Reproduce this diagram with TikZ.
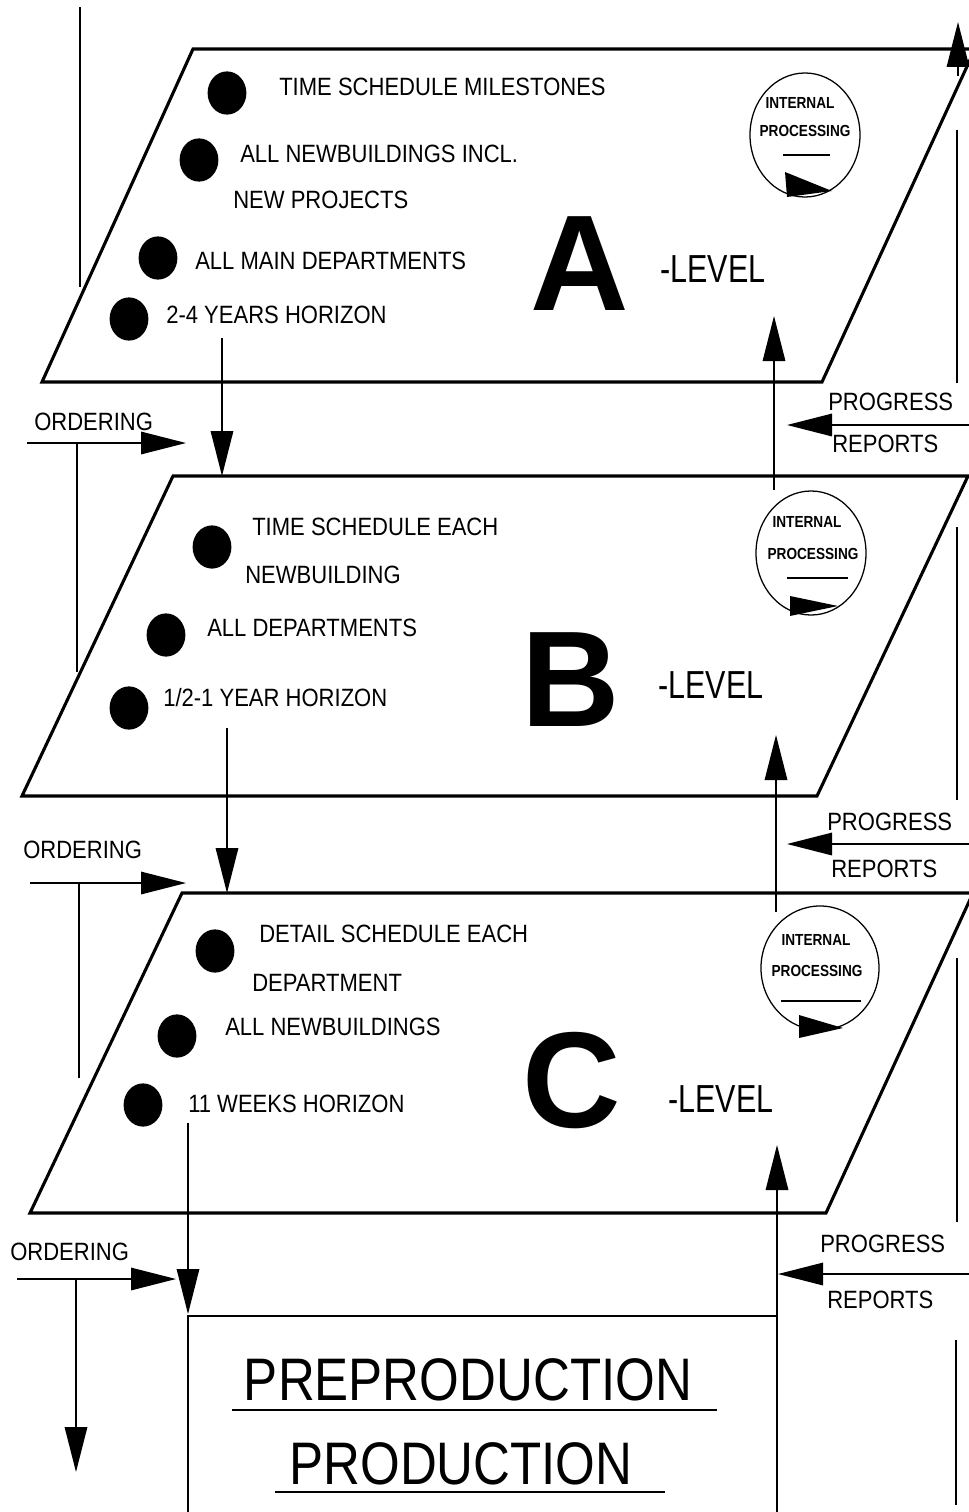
\documentclass[tikz,border=0pt]{standalone}
\usepackage{fontspec}
\setmainfont{Liberation Sans}
\newfontfamily\nar[FakeStretch=0.88]{Liberation Sans}
\newfontfamily\levfont[FakeStretch=0.78]{Liberation Sans}
\newfontfamily\ipfont[FakeStretch=0.85]{Liberation Sans}
\newfontfamily\bigfont[FakeStretch=0.85]{Liberation Sans}
\usetikzlibrary{arrows.meta,shapes.geometric}
\tikzset{
  plane/.style={line width=2.2pt, line join=miter},
  flow/.style={line width=1.1pt},
  arr/.style={flow, -{Triangle[length=32pt,width=16pt]}},
  lbl/.style={font=\nar\fontsize{17.8}{20}\selectfont, inner sep=0, anchor=base west},
  bul/.style={ellipse, fill=black, minimum width=0.97cm, minimum height=1.08cm, inner sep=0},
  big/.style={font=\bfseries\fontsize{97}{100}\selectfont, inner sep=0},
  lev/.style={font=\levfont\fontsize{27.8}{30}\selectfont, inner sep=0, anchor=base west},
  ipc/.style={ellipse, draw, line width=0.9pt, minimum width=2.75cm, minimum height=3.1cm, inner sep=0},
  iptxt/.style={font=\ipfont\bfseries\fontsize{11.4}{12}\selectfont, inner sep=0},
  ul/.style={line width=0.9pt},
  prod/.style={font=\bigfont\fontsize{42.7}{45}\selectfont, inner sep=0, anchor=base},
}
\begin{document}
\begin{tikzpicture}[x=0.025cm,y=-0.025cm]
\useasboundingbox (0,0) rectangle (968,1512);

% ---------- planes ----------
\draw[plane] (42,382) -- (193,49) -- (975,49) -- (822,382) -- cycle;
\draw[plane] (22,796) -- (173,476) -- (968,476) -- (817,796) -- cycle;
\draw[plane] (30,1213) -- (182,893) -- (973,893) -- (826,1213) -- cycle;

% ---------- A level ----------
\node[bul] (bA1) at (227,93) {};
\node[bul] (bA2) at (199,160) {};
\node[bul] (bA3) at (158,258) {};
\node[bul] (bA4) at (129,319) {};
\node[lbl] (tA1) at (279,95) {TIME SCHEDULE MILESTONES};
\node[lbl] (tA2) at (240,162) {ALL NEWBUILDINGS INCL.};
\node[lbl] (tA3) at (233,208) {NEW PROJECTS};
\node[lbl] (tA4) at (195,269) {ALL MAIN DEPARTMENTS};
\node[lbl] (tA5) at (166,323) {2-4 YEARS HORIZON};
\node[big] (LA) at (580,264) {A};
\node[lev] (lvA) at (660,282) {-LEVEL};
\node[ipc] (cA) at (805,135) {};
\node[iptxt] (iA1) at (800,103) {INTERNAL};
\node[iptxt] (iA2) at (805,131) {PROCESSING};
\draw[ul] (783,155) -- (830,155);
\fill (785,172) -- (787,197) -- (832,191) -- cycle;

% ---------- B level ----------
\node[bul] (bB1) at (212,547) {};
\node[bul] (bB2) at (166,635) {};
\node[bul] (bB3) at (129,708) {};
\node[lbl] (tB1) at (252,535) {TIME SCHEDULE EACH};
\node[lbl] (tB2) at (245,583) {NEWBUILDING};
\node[lbl] (tB3) at (207,636) {ALL DEPARTMENTS};
\node[lbl] (tB4) at (163,706) {1/2-1 YEAR HORIZON};
\node[big] (LB) at (571,680) {B};
\node[lev] (lvB) at (658,698) {-LEVEL};
\node[ipc] (cB) at (811,553) {};
\node[iptxt] (iB1) at (807,522) {INTERNAL};
\node[iptxt] (iB2) at (813,554) {PROCESSING};
\draw[ul] (787,578) -- (848,578);
\fill (790,596) -- (790,616) -- (838,606) -- cycle;

% ---------- C level ----------
\node[bul] (bC1) at (215,951) {};
\node[bul] (bC2) at (177,1036) {};
\node[bul] (bC3) at (143,1105) {};
\node[lbl] (tC1) at (259,942) {DETAIL SCHEDULE EACH};
\node[lbl] (tC2) at (252,991) {DEPARTMENT};
\node[lbl] (tC3) at (225,1035) {ALL NEWBUILDINGS};
\node[lbl] (tC4) at (188,1112) {11 WEEKS HORIZON};
\node[big] (LC) at (572,1081) {C};
\node[lev] (lvC) at (668,1112) {-LEVEL};
\node[ipc, minimum width=2.95cm] (cC) at (820,968) {};
\node[iptxt] (iC1) at (816,940) {INTERNAL};
\node[iptxt] (iC2) at (817,971) {PROCESSING};
\draw[ul] (781,1001) -- (861,1001);
\fill (799,1015) -- (799,1038) -- (843,1028) -- cycle;

% ---------- ordering (left) ----------
\node[lbl] (oA) at (34,430) {ORDERING};
\node[lbl] (oB) at (23,858) {ORDERING};
\node[lbl] (oC) at (10,1260) {ORDERING};
\coordinate (oA0) at (27,443);  \coordinate (oA1) at (186,443);
\coordinate (oB0) at (30,883);  \coordinate (oB1) at (186,883);
\coordinate (oC0) at (17,1279); \coordinate (oC1) at (176,1279);
\draw[arr] (oA0) -- (oA1);
\draw[arr] (oB0) -- (oB1);
\draw[arr] (oC0) -- (oC1);

% left vertical flow
\coordinate (l0) at (80,7);    \coordinate (l1) at (80,287);
\coordinate (l2) at (77,443);  \coordinate (l3) at (77,672);
\coordinate (l4) at (79,883);  \coordinate (l5) at (79,1078);
\coordinate (l6) at (76,1279); \coordinate (l7) at (76,1472);
\draw[flow] (l0) -- (l1);
\draw[flow] (l2) -- (l3);
\draw[flow] (l4) -- (l5);
\draw[arr] (l6) -- (l7);

% ---------- progress reports (right) ----------
\node[lbl] (pA) at (828,410) {PROGRESS};
\node[lbl] (rA) at (832,452) {REPORTS};
\node[lbl] (pB) at (827,830) {PROGRESS};
\node[lbl] (rB) at (831,877) {REPORTS};
\node[lbl] (pC) at (820,1252) {PROGRESS};
\node[lbl] (rC) at (827,1308) {REPORTS};
\coordinate (pA0) at (970,425);  \coordinate (pA1) at (787,425);
\coordinate (pB0) at (970,844);  \coordinate (pB1) at (787,844);
\coordinate (pC0) at (970,1274); \coordinate (pC1) at (778,1274);
\draw[arr] (pA0) -- (pA1);
\draw[arr] (pB0) -- (pB1);
\draw[arr] (pC0) -- (pC1);

% right vertical flow
\coordinate (r0) at (957,130);  \coordinate (r1) at (957,383);
\coordinate (r2) at (957,527);  \coordinate (r3) at (957,800);
\coordinate (r4) at (957,958);  \coordinate (r5) at (957,1222);
\coordinate (r6) at (956,1340); \coordinate (r7) at (956,1505);
\coordinate (rt0) at (958,76);  \coordinate (rt1) at (958,22);
\draw[flow] (r0) -- (r1);
\draw[flow] (r2) -- (r3);
\draw[flow] (r4) -- (r5);
\draw[flow] (r6) -- (r7);
\draw[arr] (rt0) -- (rt1);

% ---------- down arrows between levels ----------
\coordinate (dA0) at (222,338);  \coordinate (dA1) at (222,476);
\coordinate (dB0) at (227,728);  \coordinate (dB1) at (227,893);
\coordinate (dC0) at (188,1123); \coordinate (dC1) at (188,1314);
\draw[arr] (dA0) -- (dA1);
\draw[arr] (dB0) -- (dB1);
\draw[arr] (dC0) -- (dC1);

% ---------- up arrows ----------
\coordinate (uA0) at (774,490);  \coordinate (uA1) at (774,316);
\coordinate (uB0) at (776,912);  \coordinate (uB1) at (776,735);
\coordinate (uC0) at (777,1316); \coordinate (uC1) at (777,1145);
\draw[arr] (uA0) -- (uA1);
\draw[arr] (uB0) -- (uB1);
\draw[arr] (uC0) -- (uC1);

% ---------- production box ----------
\coordinate (bx0) at (188,1316); \coordinate (bx1) at (777,1316);
\coordinate (bx2) at (188,1515); \coordinate (bx3) at (777,1515);
\draw[line width=1.3pt] (bx2) -- (bx0) -- (bx1) -- (bx3);
\node[prod] (pre) at (468,1400) {PREPRODUCTION};
\node[prod] (pro) at (461,1484) {PRODUCTION};
\draw[ul] (232,1410) -- (717,1410);
\draw[ul] (275,1492) -- (665,1492);
\end{tikzpicture}
\end{document}
